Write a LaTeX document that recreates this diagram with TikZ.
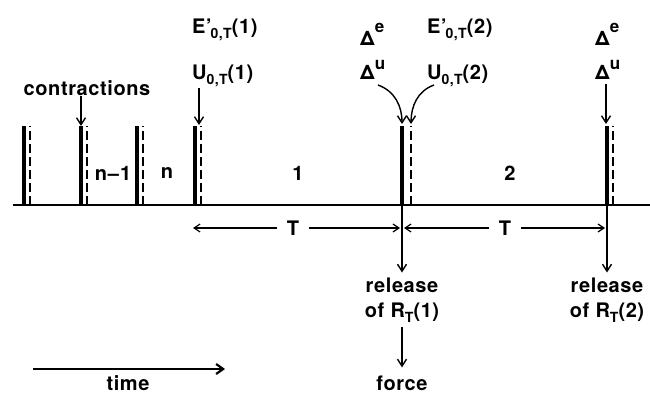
\documentclass[tikz,border=0pt]{standalone}
\usepackage{fontspec}
\setmainfont{TeX Gyre Heros}[LetterSpace=3]
\usetikzlibrary{arrows.meta}
\newcommand\lowsub[1]{\raisebox{-5pt}{\fontsize{14}{14}\selectfont #1}}
\newcommand\hisup[2]{\raisebox{#1}{\fontsize{17}{17}\selectfont #2}}
\begin{document}
\begin{tikzpicture}[x=1pt,y=-1pt,
  lbl/.style={inner sep=0pt,font=\fontsize{20}{25}\selectfont\bfseries},
  bar/.style={line width=3.2pt},
  dbar/.style={line width=1.6pt,dash pattern=on 9pt off 4pt},
  conn/.style={line width=1.4pt,-{Straight Barb[length=7pt,width=9pt,line width=1.4pt]}},
  dim/.style={line width=1.2pt,-{Straight Barb[length=6pt,width=8pt,line width=1.2pt]}}]
\useasboundingbox (0,0) rectangle (650,395);
% baseline
\coordinate (b0) at (13,205);
\coordinate (b1) at (650,205);
\draw[line width=2.2pt] (b0) -- (b1);
% contraction bars
\foreach \nm/\xs/\xd in {c1/24/30,c2/81/87,c3/137/143,c4/195/201,c5/402/411,c6/607/613}{
  \coordinate (\nm b) at (\xs,205);
  \coordinate (\nm t) at (\xs,126);
  \coordinate (\nm db) at (\xd,205);
  \coordinate (\nm dt) at (\xd,126);
  \draw[bar] (\nm b) -- (\nm t);
  \draw[dbar] (\nm db) -- (\nm dt);
}
% interval labels
\node[lbl] (nm1) at (113,173) {n\kern1pt–\kern1pt1};
\node[lbl] (nn) at (167,173) {n};
\node[lbl] (one) at (298,173) {1};
\node[lbl] (two) at (510,173) {2};
% contractions
\node[lbl] (contr) at (87,88) {contractions};
\draw[conn] (contr.south -| c2t) -- (c2t);
% top labels 1
\node[lbl,anchor=base west] (E1) at (192,34) {E’\kern-1pt\lowsub{0,T}(1)};
\node[lbl,anchor=base west] (U1) at (192,80) {U\lowsub{0,T}(1)};
\coordinate (a1t) at (199,125);
\draw[conn] (U1.south -| a1t) -- (a1t);
% top labels 2
\node[lbl,anchor=base west] (De1) at (360,46) {Δ\hisup{13pt}{e}};
\node[lbl,anchor=base west] (Du1) at (360,80) {Δ\hisup{10pt}{u}};
\node[lbl,anchor=base west] (E2) at (427,34) {E’\kern-1pt\lowsub{0,T}(2)};
\node[lbl,anchor=base west] (U2) at (427,80) {U\lowsub{0,T}(2)};
\coordinate (ca) at (378,85);
\coordinate (cb) at (434,85);
\coordinate (c5a) at (402,124);
\coordinate (c5d) at (411,124);
\draw[conn] (ca) to[out=-20,in=90] (c5a);
\draw[conn] (cb) to[out=200,in=90] (c5d);
% top labels 3
\node[lbl,anchor=base west] (De2) at (595,46) {Δ\hisup{13pt}{e}};
\node[lbl,anchor=base west] (Du2) at (595,80) {Δ\hisup{10pt}{u}};
\coordinate (a3s) at (606,84);
\coordinate (a3t) at (606,124);
\draw[conn] (a3s) -- (a3t);
% T dimensions
\node[lbl] (T1) at (293,228) {T};
\node[lbl] (T2) at (505,228) {T};
\coordinate (t1l) at (193,228);
\coordinate (t1r) at (400,228);
\coordinate (t2l) at (404,228);
\coordinate (t2r) at (605,228);
\draw[dim] ([xshift=-10pt]T1.west) -- (t1l);
\draw[dim] ([xshift=10pt]T1.east) -- (t1r);
\draw[dim] ([xshift=-10pt]T2.west) -- (t2l);
\draw[dim] ([xshift=10pt]T2.east) -- (t2r);
% releases
\node[lbl,align=center] (r1) at (402,300) {release\\of R\lowsub{T}(1)};
\node[lbl,align=center] (r2) at (607,300) {release\\of R\lowsub{T}(2)};
\draw[conn] (c5b) -- ([yshift=5pt]r1.north);
\draw[conn] (c6b) -- ([yshift=5pt]r2.north);
\node[lbl] (force) at (402,383) {force};
\draw[conn] ([yshift=-5pt]r1.south) -- ([yshift=8pt]force.north);
% time
\coordinate (ts) at (33,369);
\coordinate (te) at (225,369);
\draw[line width=2.2pt,-{Straight Barb[length=7pt,width=10pt,line width=2.2pt]}] (ts) -- (te);
\node[lbl] (time) at (128,383) {time};
\end{tikzpicture}
\end{document}
